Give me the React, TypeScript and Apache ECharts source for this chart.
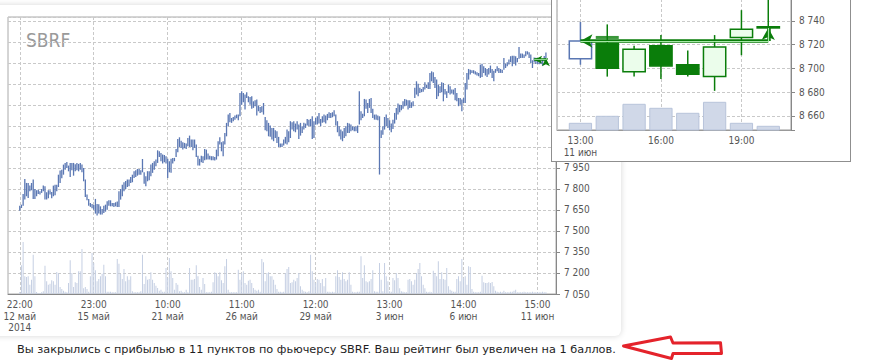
import { useEffect, useRef } from "react";
import * as echarts from "echarts";

const FONT = "'DejaVu Sans Condensed', 'Liberation Sans', Arial, sans-serif";
const MSG_FONT = "'DejaVu Sans', Verdana, sans-serif";

const chartTitle = "SBRF";
const message =
  "Вы закрылись с прибылью в 11 пунктов по фьючерсу SBRF. Ваш рейтинг был увеличен на 1 баллов.";

// x-axis tick labels, one every BARS_PER_LABEL hourly bars
const xTickLabels = [
  "22:00\n12 май\n2014",
  "23:00\n15 май",
  "10:00\n21 май",
  "11:00\n26 май",
  "12:00\n29 май",
  "13:00\n3 июн",
  "14:00\n6 июн",
  "15:00\n11 июн",
];
const BARS_PER_LABEL = 44;
const LEAD_BLANK = 7;
const TRAIL_BLANK = 6;
// main price labels above this level sit under the inset panel
const MAIN_LABEL_TOP = 7950;

// hourly bar lows / highs (points)
const barLow = [
  7645, 7664, 7681, 7724, 7748, 7736, 7783, 7791, 7729, 7729,
  7748, 7764, 7760, 7772, 7783, 7724, 7724, 7733, 7760, 7733,
  7748, 7755, 7783, 7814, 7843, 7876, 7902, 7938, 7950, 7926,
  7886, 7933, 7895, 7926, 7933, 7926, 7938, 7919, 7855, 7743,
  7719, 7681, 7672, 7662, 7652, 7624, 7610, 7624, 7617, 7617,
  7629, 7638, 7652, 7681, 7676, 7676, 7672, 7676, 7672, 7672,
  7724, 7748, 7783, 7800, 7814, 7819, 7843, 7848, 7879, 7886,
  7895, 7902, 7902, 7919, 7838, 7819, 7855, 7862, 7891, 7915,
  7938, 7962, 7986, 8029, 7998, 7981, 7991, 7981, 7879, 7919,
  7915, 7981, 7998, 8029, 8062, 8100, 8093, 8081, 8091, 8086,
  8105, 8100, 8100, 8076, 8093, 8029, 7967, 7967, 7991, 7986,
  8005, 8010, 8010, 8010, 8005, 8005, 8003, 8010, 8034, 8117,
  8069, 8034, 8117, 8176, 8248, 8276, 8272, 8284, 8295, 8305,
  8291, 8319, 8402, 8419, 8367, 8450, 8419, 8402, 8372, 8379,
  8391, 8324, 8355, 8343, 8348, 8331, 8219, 8212, 8176, 8172,
  8153, 8141, 8164, 8129, 8100, 8100, 8100, 8110, 8124, 8117,
  8134, 8164, 8224, 8212, 8205, 8224, 8157, 8181, 8200, 8224,
  8236, 8253, 8248, 8248, 8157, 8164, 8260, 8260, 8267, 8248,
  8272, 8276, 8267, 8291, 8307, 8307, 8312, 8319, 8253, 8205,
  8176, 8153, 8141, 8164, 8176, 8200, 8200, 8212, 8219, 8212,
  8212, 8200, 8260, 8291, 8307, 8319, 8372, 8343, 8379, 8343,
  8307, 8295, 8295, 8291, 7903, 8164, 8188, 8224, 8248, 8236,
  8219, 8205, 8229, 8267, 8295, 8331, 8348, 8362, 8372, 8391,
  8395, 8367, 8379, 8379, 8391, 8450, 8474, 8462, 8486, 8491,
  8495, 8510, 8521, 8514, 8514, 8569, 8557, 8521, 8443, 8462,
  8486, 8491, 8426, 8474, 8450, 8486, 8474, 8481, 8474, 8433,
  8426, 8391, 8402, 8355, 8414, 8414, 8510, 8581, 8617, 8629,
  8624, 8617, 8610, 8605, 8593, 8600, 8629, 8610, 8600, 8617,
  8629, 8593, 8569, 8629, 8640, 8629, 8629, 8629, 8652, 8664,
  8676, 8688, 8705, 8676, 8695, 8681, 8705, 8729, 8736, 8736,
  8736, 8748, 8760, 8736, 8700, 8664, 8703, 8693, 8693, 8691,
  8693, 8681, 8711, 8734,
];
const barHigh = [
  7681, 7688, 7764, 7871, 7843, 7843, 7824, 7843, 7867, 7800,
  7791, 7795, 7783, 7800, 7824, 7819, 7776, 7791, 7791, 7779,
  7824, 7831, 7831, 7902, 7931, 7938, 7974, 7986, 7993, 7967,
  7986, 7986, 7986, 7976, 7986, 7979, 7986, 7974, 7950, 7867,
  7760, 7729, 7700, 7693, 7686, 7729, 7693, 7691, 7676, 7657,
  7681, 7688, 7712, 7719, 7719, 7700, 7700, 7705, 7710, 7783,
  7800, 7831, 7848, 7857, 7867, 7867, 7886, 7902, 7926, 7933,
  7943, 7943, 7933, 8014, 7919, 7890, 7927, 7927, 7974, 7986,
  7998, 8010, 8076, 8069, 8057, 8046, 8043, 8034, 8015, 7998,
  8015, 8022, 8022, 8086, 8157, 8169, 8145, 8134, 8129, 8124,
  8164, 8181, 8153, 8153, 8153, 8117, 8038, 8015, 8038, 8034,
  8086, 8081, 8053, 8038, 8034, 8034, 8029, 8081, 8141, 8169,
  8134, 8141, 8200, 8272, 8331, 8343, 8307, 8314, 8324, 8331,
  8331, 8486, 8498, 8486, 8474, 8491, 8462, 8457, 8462, 8426,
  8433, 8438, 8395, 8386, 8391, 8414, 8314, 8291, 8272, 8253,
  8236, 8236, 8219, 8212, 8172, 8124, 8124, 8153, 8172, 8224,
  8212, 8284, 8276, 8284, 8267, 8284, 8260, 8272, 8248, 8272,
  8267, 8300, 8295, 8300, 8319, 8284, 8307, 8319, 8343, 8300,
  8319, 8331, 8324, 8336, 8348, 8343, 8348, 8362, 8331, 8284,
  8248, 8224, 8212, 8236, 8248, 8272, 8267, 8260, 8248, 8243,
  8248, 8253, 8498, 8355, 8338, 8443, 8438, 8414, 8443, 8450,
  8372, 8331, 8331, 8324, 8319, 8219, 8248, 8314, 8331, 8307,
  8291, 8267, 8295, 8343, 8379, 8410, 8402, 8400, 8426, 8443,
  8438, 8433, 8433, 8419, 8426, 8522, 8569, 8552, 8522, 8514,
  8529, 8562, 8545, 8562, 8629, 8640, 8633, 8600, 8581, 8545,
  8533, 8562, 8557, 8514, 8498, 8545, 8533, 8510, 8510, 8521,
  8486, 8450, 8450, 8438, 8450, 8557, 8629, 8657, 8652, 8648,
  8648, 8640, 8633, 8629, 8688, 8695, 8676, 8664, 8657, 8664,
  8681, 8657, 8645, 8657, 8676, 8664, 8657, 8652, 8736, 8695,
  8705, 8724, 8748, 8752, 8752, 8748, 8736, 8814, 8767, 8767,
  8760, 8783, 8783, 8776, 8760, 8719, 8739, 8737, 8719, 8728,
  8715, 8728, 8749, 8775,
];
// hourly volume (contracts, relative)
const barVolume = [
  20, 287, 520, 177, 170, 177, 93, 143, 393, 177,
  20, 10, 10, 17, 27, 283, 127, 93, 103, 137,
  127, 93, 220, 210, 70, 50, 33, 23, 17, 110,
  337, 210, 70, 117, 110, 227, 227, 450, 57, 70,
  50, 23, 177, 410, 310, 237, 127, 150, 177, 203,
  293, 177, 23, 23, 23, 17, 17, 17, 350, 303,
  200, 150, 250, 127, 177, 143, 177, 27, 17, 17,
  17, 17, 27, 393, 100, 177, 143, 150, 217, 143,
  110, 83, 60, 33, 43, 23, 23, 260, 160, 360,
  227, 160, 43, 110, 93, 27, 33, 17, 17, 43,
  17, 260, 143, 143, 150, 287, 177, 70, 43, 160,
  100, 17, 17, 17, 23, 117, 217, 210, 177, 217,
  137, 110, 277, 350, 43, 17, 17, 17, 17, 17,
  243, 143, 210, 227, 110, 93, 133, 143, 110, 60,
  43, 33, 43, 23, 350, 317, 127, 210, 217, 177,
  177, 143, 93, 50, 23, 23, 17, 23, 210, 250,
  270, 110, 117, 143, 127, 160, 210, 77, 43, 27,
  23, 17, 27, 393, 227, 143, 110, 150, 143, 110,
  150, 77, 160, 23, 23, 17, 23, 17, 177, 237,
  170, 143, 217, 150, 127, 143, 217, 93, 23, 17,
  17, 23, 23, 377, 160, 287, 127, 117, 127, 150,
  237, 27, 23, 23, 310, 143, 27, 310, 177, 127,
  27, 23, 160, 137, 210, 160, 57, 27, 23, 17,
  17, 143, 150, 127, 93, 143, 210, 250, 310, 177,
  93, 57, 23, 17, 23, 17, 233, 210, 177, 327,
  150, 217, 150, 143, 260, 77, 43, 33, 23, 23,
  150, 177, 127, 350, 160, 177, 93, 277, 270, 50,
  23, 17, 17, 17, 23, 183, 117, 110, 110, 117,
  110, 120, 77, 33, 23, 17, 23, 17, 33, 17,
  17, 17, 23, 23, 33, 43, 17, 17, 17, 17,
  23, 17, 17, 17, 17, 23, 17, 17, 17, 17,
  17, 23, 17, 17,
];

// trade (bar indices in the main chart)
const tradeEntryBar = 306;
const tradeExitBar = 313;
const tradeEntryPrice = 8723;
const tradeExitPrice = 8734;

// inset: hourly candles of 11 June
const SESSION_OPEN_HOUR = 10;
const insetDate = "11 июн";
const insetHours = [13, 14, 15, 16, 17, 18, 19, 20];
const insetOpen = [8708, 8721, 8697, 8719, 8703, 8693, 8726, 8734];
const insetClose = [8723, 8700, 8716, 8702, 8695, 8718, 8733, 8735];
const insetLow = [8703, 8693, 8693, 8691, 8693, 8681, 8711, 8734];
const insetHigh = [8739, 8737, 8719, 8728, 8715, 8728, 8749, 8775];
const insetVolume = [670, 1370, 2570, 2170, 1670, 2770, 670, 370];
const tradeEntryHour = 13;
const tradeExitHour = 20;
const orderHour = 14;
const orderPrice = 8726;

const BLUE = "#5a77b3";
const GREEN = "#0a7d0a";
const GRID_LINE = { color: "#c9c9c9", type: [3, 2] as number[], width: 1 };

const fmt = (v: number) => String(v).replace(/\B(?=(\d{3})+(?!\d))/g, " ");

const N_CAT = LEAD_BLANK + barLow.length + TRAIL_BLANK;
const labelFor = (k: number): string | null => {
  const i = k - LEAD_BLANK;
  if (i < 0 || i % BARS_PER_LABEL !== 0) return null;
  const j = i / BARS_PER_LABEL;
  return j < xTickLabels.length ? xTickLabels[j] : null;
};

function tradeLines(pts: number[][], outer: boolean, size: number[], width: number) {
  return {
    type: "line",
    data: pts,
    showSymbol: false,
    symbol: "none",
    lineStyle: { opacity: 0 },
    silent: true,
    z: outer ? 6 : 7,
    markLine: {
      silent: true,
      animation: false,
      symbolSize: size,
      label: { show: false },
      emphasis: { disabled: true },
      lineStyle: outer
        ? { color: GREEN, width, type: "solid" }
        : { color: "#a6e8a6", width: width / 3, type: "solid" },
      data: [
        [
          { coord: pts[0], symbol: outer ? "arrow" : "none" },
          { coord: pts[1], symbol: "none" },
        ],
        [
          { coord: pts[1], symbol: "none" },
          { coord: pts[2], symbol: outer ? "arrow" : "none" },
        ],
      ],
    },
  };
}

function mainOption(): any {
  const categories = Array.from({ length: N_CAT }, (_, k) => String(k));
  const tradePts = [
    [tradeEntryBar + LEAD_BLANK, tradeEntryPrice],
    [tradeExitBar + LEAD_BLANK, tradeEntryPrice],
    [tradeExitBar + LEAD_BLANK, tradeExitPrice],
  ];
  return {
    animation: false,
    textStyle: { fontFamily: FONT },
    grid: {
      left: 8,
      top: 17,
      width: 548,
      height: 277,
      show: true,
      borderColor: "#aaa",
      borderWidth: 1,
      backgroundColor: "transparent",
    },
    xAxis: {
      type: "category",
      data: categories,
      boundaryGap: false,
      axisLine: { lineStyle: { color: "#888" } },
      axisTick: { show: false },
      axisLabel: {
        interval: (idx: number) => labelFor(idx) !== null,
        formatter: (_v: string, idx: number) => labelFor(idx) ?? "",
        color: "#555",
        fontSize: 10,
        lineHeight: 11.5,
        margin: 5,
        fontFamily: FONT,
      },
      splitLine: {
        show: true,
        interval: (idx: number) => labelFor(idx) !== null,
        lineStyle: GRID_LINE,
      },
    },
    yAxis: [
      {
        type: "value",
        position: "right",
        min: 7050,
        max: 9028,
        interval: 150,
        axisLine: { show: true, lineStyle: { color: "#888" } },
        axisTick: { show: true, length: 4, lineStyle: { color: "#888" } },
        axisLabel: {
          margin: 8,
          color: "#555",
          fontSize: 10,
          fontFamily: FONT,
          formatter: (v: number) =>
            v % 150 === 0 && v <= MAIN_LABEL_TOP ? fmt(v) : "",
        },
        splitLine: { show: true, lineStyle: GRID_LINE },
      },
      { type: "value", min: 0, max: 2770, show: false, splitLine: { show: false } },
    ],
    series: [
      {
        type: "bar",
        yAxisIndex: 1,
        data: barVolume.map((v, i) => [i + LEAD_BLANK, v]),
        barWidth: 1,
        itemStyle: { color: "#c5cfe3" },
        silent: true,
        z: 1,
      },
      {
        type: "custom",
        data: barLow.map((lo, i) => [i + LEAD_BLANK, lo, barHigh[i]]),
        encode: { x: 0, y: [1, 2] },
        silent: true,
        z: 3,
        renderItem: (_p: any, api: any) => {
          const k = api.value(0);
          const top = api.coord([k, api.value(2)]);
          const bot = api.coord([k, api.value(1)]);
          return {
            type: "rect",
            shape: {
              x: top[0] - 0.65,
              y: top[1],
              width: 1.3,
              height: Math.max(1, bot[1] - top[1]),
            },
            style: { fill: BLUE },
          };
        },
      },
      tradeLines(tradePts, true, [6, 8], 2.5),
      tradeLines(tradePts, false, [6, 8], 2.5),
    ],
    graphic: [
      {
        type: "text",
        x: 26,
        y: 40,
        silent: true,
        style: {
          text: chartTitle,
          fill: "#9a9a9a",
          fontSize: 19,
          fontFamily: FONT,
          verticalAlign: "middle",
        },
      },
      {
        type: "text",
        x: 17,
        y: 349,
        silent: true,
        style: {
          text: message,
          fill: "#1e1e1e",
          fontSize: 11.3,
          fontFamily: MSG_FONT,
          verticalAlign: "middle",
        },
      },
      {
        type: "polygon",
        silent: true,
        shape: {
          points: [
            [623.5, 346],
            [670.5, 337],
            [673, 343],
            [720.5, 342.7],
            [721.5, 353.5],
            [673, 353.5],
            [671.5, 358.5],
          ],
        },
        style: { fill: "none", stroke: "#e4232b", lineWidth: 3, lineJoin: "round" },
      },
    ],
  };
}

function insetOption(): any {
  const xs = insetHours.map((h) => h - SESSION_OPEN_HOUR);
  const eX = tradeEntryHour - SESSION_OPEN_HOUR;
  const xX = tradeExitHour - SESSION_OPEN_HOUR;
  const tradePts = [
    [eX, tradeEntryPrice],
    [xX, tradeEntryPrice],
    [xX, tradeExitPrice],
  ];
  return {
    animation: false,
    textStyle: { fontFamily: FONT },
    grid: {
      left: 5,
      top: 18,
      right: 59,
      bottom: 31,
      show: true,
      borderColor: "#999",
      borderWidth: 1,
    },
    xAxis: {
      type: "value",
      min: 2.127,
      max: 10.847,
      splitNumber: 3,
      axisLine: { show: true, lineStyle: { color: "#999" } },
      axisTick: { show: false },
      axisLabel: {
        color: "#555",
        fontSize: 10,
        lineHeight: 11.5,
        margin: 5,
        fontFamily: FONT,
        formatter: (v: number) => {
          if (Math.abs(v - Math.round(v)) > 1e-6) return "";
          const h = Math.round(v) + SESSION_OPEN_HOUR;
          return h === insetHours[0] ? `${h}:00\n${insetDate}` : `${h}:00`;
        },
      },
      splitLine: { show: true, lineStyle: GRID_LINE },
    },
    yAxis: [
      {
        type: "value",
        position: "right",
        min: 8648,
        max: 8758.4,
        splitNumber: 6,
        axisLine: { show: true, lineStyle: { color: "#888" } },
        axisTick: { show: true, length: 4, lineStyle: { color: "#888" } },
        axisLabel: {
          margin: 8,
          color: "#555",
          fontSize: 10,
          fontFamily: FONT,
          formatter: (v: number) => (v % 20 === 0 ? fmt(v) : ""),
        },
        splitLine: { show: true, lineStyle: GRID_LINE },
      },
      { type: "value", min: 0, max: 13100, show: false, splitLine: { show: false } },
    ],
    series: [
      {
        type: "custom",
        yAxisIndex: 1,
        data: xs.map((x, j) => [x, insetVolume[j]]),
        encode: { x: 0, y: 1 },
        silent: true,
        z: 1,
        renderItem: (_p: any, api: any) => {
          const x = api.value(0);
          const w = api.size([1, 0])[0] * 0.83;
          const p0 = api.coord([x, 0]);
          const p1 = api.coord([x, api.value(1)]);
          return {
            type: "rect",
            shape: { x: p0[0] - w / 2, y: p1[1], width: w, height: p0[1] - p1[1] },
            style: { fill: "#d0d8e8", stroke: "#b7c3da", lineWidth: 1 },
          };
        },
      },
      {
        type: "custom",
        data: xs.map((x, j) => [
          x,
          insetOpen[j],
          insetClose[j],
          insetLow[j],
          insetHigh[j],
          insetHours[j] === tradeEntryHour ? 1 : 0,
        ]),
        encode: { x: 0, y: [1, 2, 3, 4] },
        silent: true,
        z: 3,
        renderItem: (_p: any, api: any) => {
          const x = api.value(0);
          const o = api.value(1);
          const c = api.value(2);
          const entry = api.value(5) === 1;
          const w = api.size([1, 0])[0] * 0.83;
          const pH = api.coord([x, api.value(4)]);
          const pL = api.coord([x, api.value(3)]);
          const pO = api.coord([x, o]);
          const pC = api.coord([x, c]);
          const up = c >= o;
          const stroke = entry ? BLUE : GREEN;
          const fill = entry ? "#ffffff" : up ? "#ebfdeb" : GREEN;
          return {
            type: "group",
            children: [
              {
                type: "line",
                shape: { x1: pH[0], y1: pH[1], x2: pL[0], y2: pL[1] },
                style: { stroke, lineWidth: 1.5 },
              },
              {
                type: "rect",
                shape: {
                  x: pO[0] - w / 2,
                  y: Math.min(pO[1], pC[1]),
                  width: w,
                  height: Math.max(1, Math.abs(pO[1] - pC[1])),
                },
                style: { fill, stroke, lineWidth: 1.5 },
              },
            ],
          };
        },
      },
      {
        type: "scatter",
        data: [[orderHour - SESSION_OPEN_HOUR, orderPrice]],
        symbol: "rect",
        symbolSize: [23, 3],
        itemStyle: { color: GREEN },
        silent: true,
        z: 4,
      },
      tradeLines(tradePts, true, [10, 12], 3.5),
      tradeLines(tradePts, false, [10, 12], 3.5),
    ],
  };
}

export default function App() {
  const mainRef = useRef<HTMLDivElement>(null);
  const insetRef = useRef<HTMLDivElement>(null);

  useEffect(() => {
    const main = echarts.init(mainRef.current!, undefined, { renderer: "svg" });
    main.setOption(mainOption());
    const inset = echarts.init(insetRef.current!, undefined, { renderer: "svg" });
    inset.setOption(insetOption());
    return () => {
      main.dispose();
      inset.dispose();
    };
  }, []);

  return (
    <div
      style={{
        position: "fixed",
        left: 0,
        top: 0,
        width: 872,
        height: 364,
        overflow: "hidden",
        background: "#fff",
      }}
    >
      <div
        style={{
          position: "absolute",
          left: -10,
          top: 5,
          width: 631,
          height: 331,
          background: "#fff",
          borderRadius: 6,
          boxShadow: "0 0 6px rgba(0,0,0,0.16)",
        }}
      />
      <div
        ref={mainRef}
        style={{ position: "absolute", left: 0, top: 0, width: 872, height: 364 }}
      />
      <div
        style={{
          position: "absolute",
          left: 551,
          top: -20,
          width: 300,
          height: 182,
          border: "1px solid #8f8f8f",
          background: "#fff",
          boxSizing: "border-box",
        }}
      >
        <div ref={insetRef} style={{ width: 298, height: 180 }} />
      </div>
    </div>
  );
}
